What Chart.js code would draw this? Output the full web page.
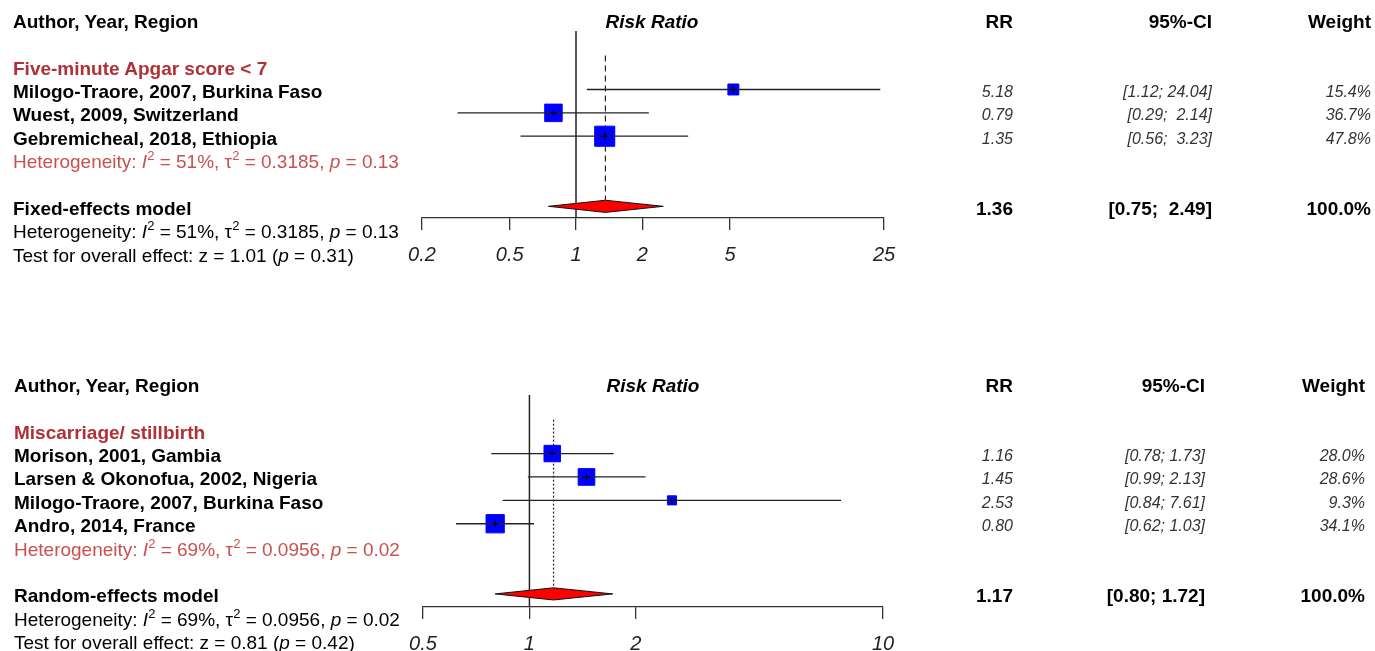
<!DOCTYPE html>
<html>
<head>
<meta charset="utf-8">
<script src="https://cdn.jsdelivr.net/npm/chart.js@4.4.1/dist/chart.umd.min.js"></script>
<style>
  body { margin: 0; background: #fff; width: 1375px; height: 651px; overflow: hidden; position: relative;
         font-family: "Liberation Sans", Arial, sans-serif; color: #000; }
  .box { position: absolute; left: 0; width: 1375px; }
  canvas { position: absolute; left: 0; top: 0; }
  .t { position: absolute; white-space: pre; height: 24px; line-height: 24px; font-size: 19px; }
  .b { font-weight: bold; }
  .i { font-style: italic; }
  .v { font-style: italic; font-size: 16px; color: #333; }
  sup { font-size: 13px; line-height: 0; vertical-align: 8px; }
</style>
</head>
<body>
<div id="panel1" class="box" style="top:0;height:330px"></div>
<div id="panel2" class="box" style="top:364px;height:287px"></div>
<script>
// --- five-minute Apgar score < 7 ---
const apgarStudies = ['Milogo-Traore, 2007, Burkina Faso', 'Wuest, 2009, Switzerland', 'Gebremicheal, 2018, Ethiopia'];
const apgarRR = [5.18, 0.79, 1.35];
const apgarLower = [1.12, 0.29, 0.56];
const apgarUpper = [24.04, 2.14, 3.23];
const apgarWeight = [15.4, 36.7, 47.8];
const apgarPooled = [1.36, 0.75, 2.49];   // RR, lower, upper
const apgarHet = [51, 0.3185, 0.13];      // I2, tau2, p
const apgarTest = [1.01, 0.31];           // z, p
const apgarTicks = [0.2, 0.5, 1, 2, 5, 25];

// --- miscarriage / stillbirth ---
const missStudies = ['Morison, 2001, Gambia', 'Larsen & Okonofua, 2002, Nigeria', 'Milogo-Traore, 2007, Burkina Faso', 'Andro, 2014, France'];
const missRR = [1.16, 1.45, 2.53, 0.80];
const missLower = [0.78, 0.99, 0.84, 0.62];
const missUpper = [1.73, 2.13, 7.61, 1.03];
const missWeight = [28.0, 28.6, 9.3, 34.1];
const missPooled = [1.17, 0.80, 1.72];
const missHet = [69, 0.0956, 0.02];
const missTest = [0.81, 0.42];
const missTicks = [0.5, 1, 2, 10];

const W = 1375;
const ROW = 23.4;
const MARK_Y0 = 19.4;
const TEXT_Y0 = 21.7;
const AXIS_H = 44;
const FONT = '"Liberation Sans", Arial, sans-serif';
const SUB_RED = '#b03036';
const HET_RED = '#c8504e';

function addText(box, x, row, html, cls, align, color) {
  const d = document.createElement('div');
  d.className = 't ' + (cls || '');
  d.innerHTML = html;
  d.style.top = (TEXT_Y0 + row * ROW - 12) + 'px';
  if (align === 'right') d.style.right = (W - x) + 'px';
  else if (align === 'center') { d.style.left = (x - 150) + 'px'; d.style.width = '300px'; d.style.textAlign = 'center'; }
  else d.style.left = x + 'px';
  if (color) d.style.color = color;
  box.appendChild(d);
}

const hetHtml = h => `Heterogeneity: <i>I</i><sup>2</sup> = ${h[0]}%, τ<sup>2</sup> = ${h[1].toFixed(4)}, <i>p</i> = ${h[2].toFixed(2)}`;
const testHtml = t => `Test for overall effect: z = ${t[0].toFixed(2)} (<i>p</i> = ${t[1].toFixed(2)})`;
const fmt = v => v.toFixed(2);

function drawPanel(p) {
  const box = document.getElementById(p.box);
  const n = p.studies.length;
  const firstRow = 3, hetRow = firstRow + n, modelRow = hetRow + 2;
  const yMax = modelRow + p.axisGap;
  const rows = p.studies.map((s, i) => firstRow + i);
  const [est, lo, hi] = p.pooled;

  // columns of text
  const loW = Math.max(...p.lower.concat([lo]).map(v => fmt(v).length));
  const hiW = Math.max(...p.upper.concat([hi]).map(v => fmt(v).length));
  const ci = (a, b) => '[' + fmt(a).padStart(loW) + '; ' + fmt(b).padStart(hiW) + ']';

  addText(box, p.left, 0, 'Author, Year, Region', 'b');
  addText(box, p.titleX, 0, 'Risk Ratio', 'b i', 'center');
  addText(box, p.cols[0], 0, 'RR', 'b', 'right');
  addText(box, p.cols[1], 0, '95%-CI', 'b', 'right');
  addText(box, p.cols[2], 0, 'Weight', 'b', 'right');
  addText(box, p.left, 2, p.subgroup, 'b', null, SUB_RED);
  p.studies.forEach((s, i) => {
    addText(box, p.left, rows[i], s, 'b');
    addText(box, p.cols[0], rows[i], fmt(p.rr[i]), 'v', 'right');
    addText(box, p.cols[1], rows[i], ci(p.lower[i], p.upper[i]), 'v', 'right');
    addText(box, p.cols[2], rows[i], p.weight[i].toFixed(1) + '%', 'v', 'right');
  });
  addText(box, p.left, hetRow, hetHtml(p.het), '', null, HET_RED);
  addText(box, p.left, modelRow, p.model, 'b');
  addText(box, p.cols[0], modelRow, fmt(est), 'b', 'right');
  addText(box, p.cols[1], modelRow, ci(lo, hi), 'b', 'right');
  addText(box, p.cols[2], modelRow, '100.0%', 'b', 'right');
  addText(box, p.left, modelRow + 1, hetHtml(p.het));
  addText(box, p.left, modelRow + 2, testHtml(p.test));

  // the plot
  const canvas = document.createElement('canvas');
  canvas.width = W;
  canvas.height = Math.round(MARK_Y0 + yMax * ROW) + AXIS_H;
  box.insertBefore(canvas, box.firstChild);

  const dh = 0.26;
  const datasets = [];
  // small crosses at the point estimates (drawn on top)
  datasets.push({ data: rows.map((r, i) => ({ x: p.rr[i], y: r })), pointStyle: 'cross',
    pointRadius: 3.5, borderColor: '#000', borderWidth: 1 });
  // confidence intervals
  p.lower.forEach((l, i) => datasets.push({
    data: [{ x: l, y: rows[i] }, { x: p.upper[i], y: rows[i] }],
    showLine: true, borderColor: '#222', borderWidth: 1.3, pointRadius: 0 }));
  // weight squares
  datasets.push({ data: rows.map((r, i) => ({ x: p.rr[i], y: r })), pointStyle: 'rect',
    pointRadius: p.weight.map(w => (p.boxScale * Math.sqrt(w) - 1) * Math.SQRT1_2),
    backgroundColor: '#0000ff', borderColor: '#0000ff', borderWidth: 1 });
  // pooled diamond
  datasets.push({ data: [{ x: lo, y: modelRow }, { x: est, y: modelRow - dh }, { x: hi, y: modelRow },
    { x: est, y: modelRow + dh }, { x: lo, y: modelRow }],
    showLine: true, fill: 'shape', backgroundColor: '#ff0000', borderColor: '#111', borderWidth: 1, pointRadius: 0 });
  // pooled estimate line
  datasets.push({ data: [{ x: est, y: 1.55 }, { x: est, y: modelRow - dh }], showLine: true,
    borderDash: p.dash, borderColor: '#222', borderWidth: 1.2, pointRadius: 0 });
  // line of no effect
  datasets.push({ data: [{ x: 1, y: 0.5 }, { x: 1, y: yMax }], showLine: true,
    borderColor: '#222', borderWidth: 1.5, pointRadius: 0 });

  new Chart(canvas.getContext('2d'), {
    type: 'scatter',
    data: { datasets },
    options: {
      responsive: false,
      animation: false,
      events: [],
      layout: { padding: { left: p.axis[0], right: W - p.axis[1], top: MARK_Y0, bottom: 0 } },
      plugins: { legend: { display: false }, tooltip: { enabled: false } },
      scales: {
        x: {
          type: 'logarithmic',
          min: p.ticks[0],
          max: p.ticks[p.ticks.length - 1],
          afterBuildTicks: s => { s.ticks = p.ticks.map(v => ({ value: v })); },
          afterFit: s => { s.height = AXIS_H; },
          grid: { drawOnChartArea: false, drawTicks: true, tickLength: 12, color: '#333', lineWidth: 1.3 },
          border: { display: true, color: '#333', width: 1.3 },
          ticks: { autoSkip: false, maxRotation: 0, padding: 13, color: '#222',
                   font: { family: FONT, size: 20, style: 'italic' }, callback: v => String(v) }
        },
        y: { type: 'linear', reverse: true, min: 0, max: yMax, display: false }
      }
    }
  });
}

drawPanel({
  box: 'panel1', subgroup: 'Five-minute Apgar score &lt; 7', model: 'Fixed-effects model',
  studies: apgarStudies, rr: apgarRR, lower: apgarLower, upper: apgarUpper, weight: apgarWeight,
  pooled: apgarPooled, het: apgarHet, test: apgarTest, ticks: apgarTicks, axisGap: 0.5,
  left: 13, titleX: 652, cols: [1013, 1212, 1371], axis: [422, 884], boxScale: 3.05, dash: [6, 4]
});
drawPanel({
  box: 'panel2', subgroup: 'Miscarriage/ stillbirth', model: 'Random-effects model',
  studies: missStudies, rr: missRR, lower: missLower, upper: missUpper, weight: missWeight,
  pooled: missPooled, het: missHet, test: missTest, ticks: missTicks, axisGap: 0.56,
  left: 14, titleX: 653, cols: [1013, 1205, 1365], axis: [423, 883], boxScale: 3.3, dash: [2, 2]
});
</script>
</body>
</html>
